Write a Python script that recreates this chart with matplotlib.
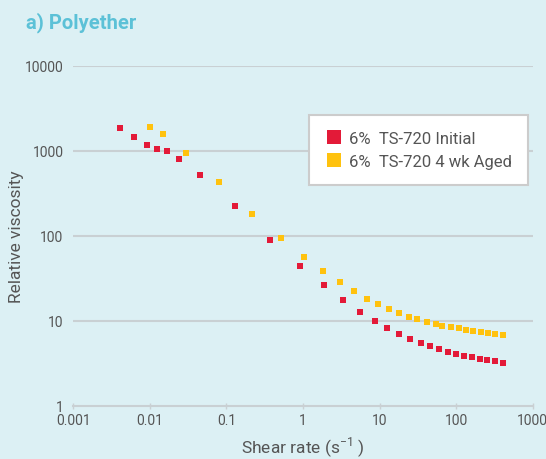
import numpy as np
import matplotlib.pyplot as plt

# shear rate (1/s) and relative viscosity
rate_init = [0.0041, 0.0062, 0.0092, 0.0126, 0.0168, 0.0243, 0.0454, 0.130, 0.375,
             0.916, 1.88, 3.34, 5.56, 8.73, 12.5, 18.0, 25.0, 34.8, 46.0, 59.8,
             78.4, 99.7, 127, 161, 205, 253, 322, 409]
visc_init = [1835, 1438, 1158, 1038, 982, 792, 514, 222, 88.3,
             43.6, 26.1, 17.4, 12.6, 9.84, 8.15, 6.92, 6.04, 5.42, 5.00, 4.61,
             4.25, 4.03, 3.81, 3.71, 3.51, 3.42, 3.33, 3.15]

rate_aged = [0.0101, 0.0149, 0.0298, 0.0804, 0.218, 0.518, 1.03, 1.83, 3.05,
             4.65, 6.87, 9.64, 13.3, 18.0, 24.3, 31.1, 41.7, 54.2, 66.1, 85.7,
             109, 135, 166, 213, 263, 325, 409]
visc_aged = [1884, 1560, 931, 425, 179, 93.2, 55.7, 38.1, 28.3,
             22.2, 17.9, 15.6, 13.6, 12.2, 11.0, 10.4, 9.57, 9.07, 8.59, 8.36,
             8.14, 7.71, 7.50, 7.31, 7.11, 6.92, 6.73]

xticks = [0.001, 0.01, 0.1, 1, 10, 100, 1000]
xlabels = ['0.001', '0.01', '0.1', '1', '10', '100', '1000']
yticks = [1, 10, 100, 1000, 10000]
ylabels = ['1', '10', '100', '1000', '10000']

bg = '#dcf0f4'
red = '#e31a38'
yellow = '#ffc20e'
txt = '#555555'
grid = '#c9d0d3'

plt.rcParams['font.family'] = ['Roboto', 'DejaVu Sans']

fig = plt.figure(figsize=(5.46, 4.6), dpi=100, facecolor=bg)
ax = fig.add_axes([0.1339, 0.1159, 0.8418, 0.739])
ax.set_facecolor(bg)

ax.set_xscale('log')
ax.set_yscale('log')
ax.set_xlim(0.001, 1000)
ax.set_ylim(1, 10000)

# horizontal grid lines (bottom one is the axis itself)
for y in yticks[1:]:
    ax.axhline(y, color=grid, lw=1.5, zorder=1)

ax.plot(rate_init, visc_init, 's', color=red, ms=4.5, mew=0,
        label='6%  TS-720 Initial', zorder=3)
ax.plot(rate_aged, visc_aged, 's', color=yellow, ms=4.5, mew=0,
        label='6%  TS-720 4 wk Aged', zorder=3)

ax.set_xticks(xticks)
ax.set_xticklabels(xlabels)
ax.set_yticks(yticks)
ax.set_yticklabels(ylabels)
ax.minorticks_off()
ax.tick_params(axis='x', direction='inout', length=4, width=1, color=grid,
               labelcolor=txt, labelsize=10, pad=3)
ax.tick_params(axis='y', length=0, labelcolor=txt, labelsize=10, pad=7)

for s in ['top', 'right', 'left']:
    ax.spines[s].set_visible(False)
ax.spines['bottom'].set_color(grid)
ax.spines['bottom'].set_linewidth(1.5)

ax.set_xlabel('Shear rate (s$^{\\mathregular{-1}}$ )', color=txt, fontsize=12.5, labelpad=5.5)
ax.set_ylabel('Relative viscosity', color=txt, fontsize=12.5)
ax.yaxis.set_label_coords(-0.107, 0.5)

leg = ax.legend(loc='upper right', bbox_to_anchor=(0.990, 0.855), fancybox=False,
                framealpha=1, edgecolor='#cccccc', fontsize=12, markerscale=2.1,
                handlelength=1.1, handletextpad=0.4, borderpad=0.95,
                labelspacing=0.5, borderaxespad=0)
leg.get_frame().set_linewidth(1.5)
for t in leg.get_texts():
    t.set_color(txt)

fig.text(0.047, 0.938, 'a) Polyether', color='#5cc1d7', fontsize=14.5,
         fontweight='bold', va='baseline', ha='left')

fig.savefig('out.png', dpi=100, facecolor=bg)
